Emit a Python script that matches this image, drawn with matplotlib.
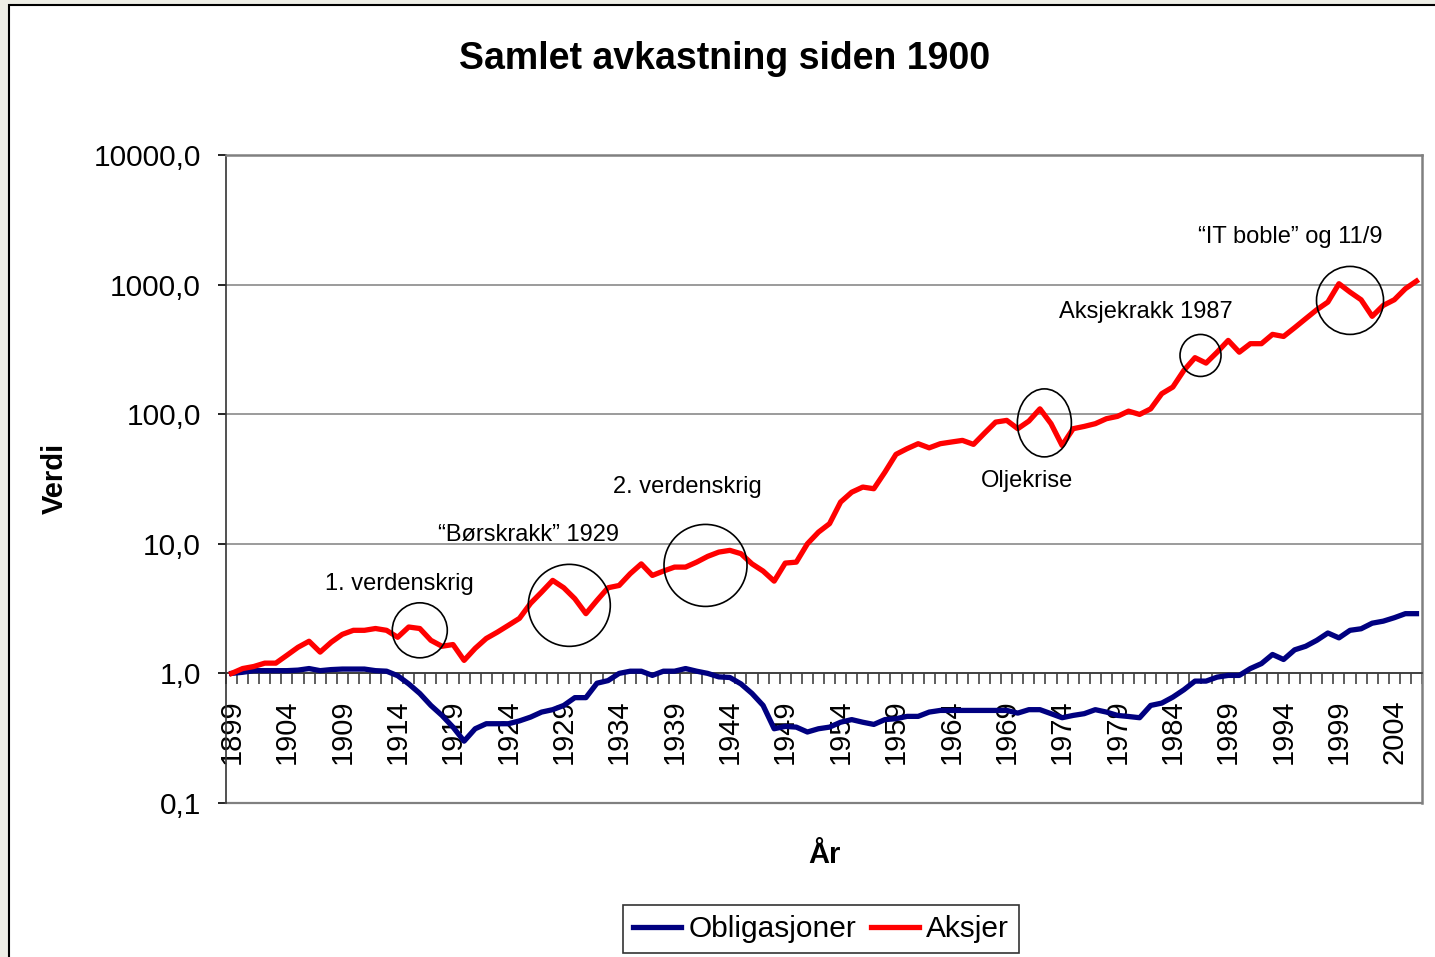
import numpy as np
import matplotlib
matplotlib.use("Agg")
import matplotlib.pyplot as plt
from matplotlib.patches import Ellipse, Rectangle
from matplotlib.transforms import ScaledTranslation
from matplotlib.ticker import FixedLocator, FuncFormatter, NullFormatter

plt.rcParams['font.family'] = ['Liberation Sans', 'DejaVu Sans']

# --- data ---
years = np.arange(1899, 2007)

aksjer = [
    1.00, 1.09, 1.13, 1.20, 1.20, 1.38, 1.59, 1.77, 1.46, 1.74,   # 1899-1908
    2.00, 2.15, 2.15, 2.22, 2.15, 1.90, 2.28, 2.22, 1.80, 1.62,   # 1909-1918
    1.67, 1.26, 1.56, 1.86, 2.08, 2.35, 2.66, 3.47, 4.24, 5.22,   # 1919-1928
    4.58, 3.77, 2.89, 3.66, 4.58, 4.77, 5.88, 7.00, 5.70, 6.16,   # 1929-1938
    6.61, 6.61, 7.22, 8.00, 8.63, 8.90, 8.39, 7.00, 6.16, 5.15,   # 1939-1948
    7.10, 7.22, 10.0, 12.3, 14.3, 21.0, 25.0, 27.4, 26.6, 35.7,   # 1949-1958
    49.0, 54.2, 59.2, 55.0, 59.2, 61.0, 62.8, 58.5, 71.5, 86.9,   # 1959-1968
    89.6, 77.3, 88.5, 110, 84.5, 57.4, 77.3, 80.5, 84.5, 92.3,    # 1969-1978
    96.2, 105.6, 99.6, 110, 144, 162, 218, 273, 248, 301,         # 1979-1988
    371, 301, 350, 350, 413, 398, 465, 546, 640, 733,             # 1989-1998
    1016, 875, 764, 569, 691, 764, 930, 1064,                     # 1999-2006
]

obligasjoner = [
    1.00, 1.02, 1.05, 1.05, 1.05, 1.05, 1.06, 1.09, 1.05, 1.07,   # 1899-1908
    1.08, 1.08, 1.08, 1.05, 1.04, 0.96, 0.83, 0.70, 0.566, 0.474, # 1909-1918
    0.385, 0.30, 0.374, 0.409, 0.409, 0.409, 0.43, 0.46, 0.503, 0.525,  # 1919-1928
    0.566, 0.65, 0.65, 0.84, 0.88, 1.00, 1.04, 1.04, 0.965, 1.04, # 1929-1938
    1.04, 1.09, 1.04, 1.00, 0.94, 0.93, 0.83, 0.70, 0.566, 0.374, # 1939-1948
    0.39, 0.385, 0.353, 0.374, 0.385, 0.42, 0.44, 0.42, 0.404, 0.44,  # 1949-1958
    0.447, 0.466, 0.466, 0.503, 0.518, 0.518, 0.518, 0.518, 0.518, 0.518,  # 1959-1968
    0.518, 0.494, 0.525, 0.525, 0.489, 0.455, 0.474, 0.489, 0.525, 0.503,  # 1969-1978
    0.474, 0.465, 0.455, 0.566, 0.59, 0.656, 0.748, 0.872, 0.872, 0.936,   # 1979-1988
    0.965, 0.965, 1.09, 1.19, 1.40, 1.28, 1.52, 1.62, 1.80, 2.05,          # 1989-1998
    1.88, 2.15, 2.21, 2.44, 2.53, 2.69, 2.89, 2.89,                        # 1999-2006
]

y_ticks = [0.1, 1, 10, 100, 1000, 10000]

# annotations: (text, text year, text value, circle year, circle value, width px, height px)
notes = [
    ("1. verdenskrig", 1914.2, 4.86, 1916.0, 2.15, 55, 55),
    ("\u201cB\u00f8rskrakk\u201d 1929", 1925.8, 11.6, 1929.5, 3.35, 82, 82),
    ("2. verdenskrig", 1940.2, 27.2, 1941.8, 6.81, 83, 82),
    ("Oljekrise", 1970.8, 30.3, 1972.4, 85.7, 54, 68),
    ("Aksjekrakk 1987", 1981.6, 610, 1986.5, 284, 41, 42),
    ("\u201cIT boble\u201d og 11/9", 1994.6, 2313, 2000.0, 755, 67, 68),
]

W, H = 1435, 957
fig = plt.figure(figsize=(W / 100, H / 100), dpi=100, facecolor='#EEEEE6')

# white chart area with black frame (behind the axes)
fig.patches.append(Rectangle((9 / W, -0.01), 1.0, 1 - 5 / H + 0.01,
                             transform=fig.transFigure, facecolor='white',
                             edgecolor='black', linewidth=1.5, zorder=-10))

ax = fig.add_axes([226 / W, 1 - 803 / H, (1422 - 226) / W, (803 - 155) / H])
ax.set_facecolor('white')

ax.plot(years, obligasjoner, color='#000080', lw=3.8, label='Obligasjoner',
        solid_joinstyle='round', zorder=3)
ax.plot(years, aksjer, color='#FF0000', lw=3.8, label='Aksjer',
        solid_joinstyle='round', zorder=3)

ax.set_yscale('log')
ax.set_ylim(0.1, 10000)
ax.set_xlim(1898.5, 2006.5)

# y axis
ax.yaxis.set_major_locator(FixedLocator(y_ticks))
ax.yaxis.set_minor_locator(FixedLocator([]))
ax.yaxis.set_major_formatter(FuncFormatter(lambda v, p: f"{v:.1f}".replace('.', ',')))
ax.tick_params(axis='y', which='major', length=6, width=1.2, pad=12,
               labelsize=21.5, colors='black', direction='out')
ax.grid(axis='y', color='#808080', lw=1.1)
ax.axhline(0.1, color='#808080', lw=1.6, clip_on=False)

# category axis crossing at 1,0
ax.spines['bottom'].set_position(('data', 1))
ax.spines['bottom'].set_color('#333333')
ax.spines['bottom'].set_linewidth(1.2)
ax.spines['left'].set_color('#333333')
ax.spines['left'].set_linewidth(1.2)
for s in ('top', 'right'):
    ax.spines[s].set_color('#808080')
    ax.spines[s].set_linewidth(1.8)

ax.xaxis.set_major_locator(FixedLocator(years[::5]))
ax.xaxis.set_minor_locator(FixedLocator(np.arange(1898.5, 2007, 1.0)))
ax.xaxis.set_minor_formatter(NullFormatter())
ax.set_xticklabels([str(y) for y in years[::5]], rotation=90, fontsize=21)
ax.tick_params(axis='x', which='major', length=0, pad=19)
ax.tick_params(axis='x', which='minor', length=8, width=1.1, direction='out',
               color='#333333')

# annotations
for text, tx, ty, cx, cy, w, h in notes:
    ax.text(tx, ty, text, ha='center', va='center', fontsize=17, zorder=4)
    tr = fig.dpi_scale_trans + ScaledTranslation(cx, cy, ax.transData)
    ax.add_patch(Ellipse((0, 0), w / 100, h / 100, transform=tr,
                         fill=False, edgecolor='black', lw=1.2, zorder=4))

fig.text(0.505, 1 - 59 / H, "Samlet avkastning siden 1900", ha='center',
         va='center', fontsize=27, fontweight='bold')
fig.text(55 / W, 1 - 478 / H, "Verdi", rotation=90, ha='center', va='center',
         fontsize=21, fontweight='bold')
fig.text(824 / W, 1 - 855 / H, "\u00c5r", ha='center', va='center',
         fontsize=21, fontweight='bold')

leg = fig.legend(loc='center', bbox_to_anchor=(821 / W, 1 - 929 / H), ncol=2,
                 fontsize=21.5, frameon=True, fancybox=False, handlelength=1.6,
                 handletextpad=0.25, columnspacing=0.5, borderpad=0.35,
                 borderaxespad=0)
leg.get_frame().set_edgecolor('black')
leg.get_frame().set_linewidth(1.2)

fig.savefig('out.png', dpi=100, facecolor=fig.get_facecolor())
